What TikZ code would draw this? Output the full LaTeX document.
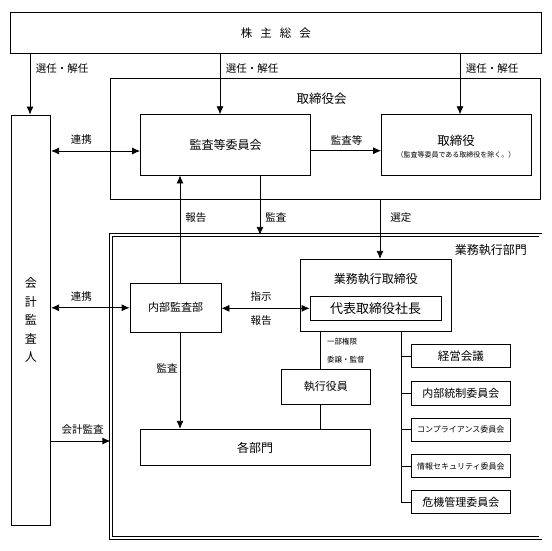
\documentclass[tikz,border=0pt]{standalone}
\usepackage{fontspec}
\setmainfont{Noto Sans CJK JP}
\usetikzlibrary{arrows.meta}
\tikzset{
	block/.style = {draw, rectangle, inner sep=0pt, font=\fontsize{12}{14}\selectfont},
	group/.style = {draw, rectangle, inner sep=0pt},
	cmte/.style  = {draw, rectangle, inner sep=0pt, minimum width=99.7pt,
		minimum height=23.5pt, font=\fontsize{11}{13}\selectfont},
	lab/.style   = {inner sep=0pt, font=\fontsize{10.5}{12}\selectfont}, % arrow labels
	head/.style  = {inner sep=0pt, font=\fontsize{12}{14}\selectfont} % box titles
}
\newcommand{\sennin}{選任・解任}

\begin{document}
\begin{tikzpicture}[x=1pt, y=-1pt, line width=0.8pt, >={Latex[length=8pt,width=7pt]}]
	\useasboundingbox (0,0) rectangle (551,551);
	\draw
	node at (275.85,33) [block, minimum width=530.3pt, minimum height=40.6pt,
		font=\fontsize{11.5}{14}\selectfont] (soukai) {株\hspace{8pt}主\hspace{8pt}総\hspace{8pt}会}
	node at (325.7,138.65) [group, minimum width=430pt, minimum height=120.7pt] (board) {}
	node at (321.7,98.3) [head, font=\fontsize{12.5}{14}\selectfont] {取締役会}
	node at (30.85,320.35) [block, minimum width=39.7pt, minimum height=410.7pt, align=center,
		font=\fontsize{12}{18.5}\selectfont] (kaikei) {会\\計\\監\\査\\人}
	node at (225.5,144.85) [block, minimum width=170pt, minimum height=60.3pt] (kansa) {監査等委員会}
	node at (456.5,144.85) [block, minimum width=150pt, minimum height=60.3pt] (tori) {}
	node at (456,141) [head, font=\fontsize{12.5}{14}\selectfont] {取締役}
	node at (456,154.5) [head, font=\fontsize{7}{8}\selectfont] {（監査等委員である取締役を除く。）}
	node at (325.6,386.8) [group, double, double distance=2.2pt, minimum width=429.7pt,
		minimum height=303pt] (bumon) {}
	node at (490.9,250) [head] {業務執行部門}
	node at (375.5,295.5) [block, minimum width=151pt, minimum height=72.4pt] (gyomu) {}
	node at (375.8,279.5) [head] {業務執行取締役}
	node at (375.5,308.35) [block, minimum width=131pt, minimum height=24.7pt,
		font=\fontsize{13}{15}\selectfont] (daihyo) {代表取締役社長}
	node at (175.5,307.8) [block, minimum width=91pt, minimum height=49pt,
		font=\fontsize{11}{13}\selectfont] (naibu) {内部監査部}
	node at (325.85,386.8) [block, minimum width=89.7pt, minimum height=35pt,
		font=\fontsize{11}{13}\selectfont] (shikko) {執行役員}
	node at (255,447.5) [block, minimum width=230pt, minimum height=36.4pt] (kakubu) {各部門}
	node at (460.85,356) [cmte, font=\fontsize{11.5}{13}\selectfont] (keiei) {経営会議}
	node at (460.85,393.3) [cmte] (tousei) {内部統制委員会}
	node at (460.85,429.7) [cmte, font=\fontsize{8}{10}\selectfont] (compl) {コンプライアンス委員会}
	node at (460.85,466) [cmte, font=\fontsize{8}{10}\selectfont] (joho) {情報セキュリティ委員会}
	node at (460.85,502) [cmte] (kiki) {危機管理委員会};
	
	\draw[->] (soukai.south -| 30,0) -- node[lab, pos=0.24, right=5.5pt] {\sennin} (kaikei.north -| 30,0);
	\draw[->] (soukai.south -| 220,0) -- node[lab, pos=0.24, right=5.5pt] {\sennin} (kansa.north -| 220,0);
	\draw[->] (soukai.south -| 460,0) -- node[lab, pos=0.24, right=5.5pt] {\sennin} (tori.north -| 460,0);
	\draw[<->] (kaikei.east |- 0,151) -- node[lab, pos=0.34, yshift=11.7pt] {連携} (kansa.west |- 0,151);
	\draw[->] (kansa.east |- 0,150.7) -- node[lab, pos=0.51, yshift=10.7pt] {監査等} (tori.west |- 0,150.7);
	\draw[->] (naibu.north -| 180,0) -- node[lab, pos=0.61, right=5pt] {報告} (kansa.south -| 180,0);
	\draw[->] (kansa.south -| 260,0) -- node[lab, pos=0.71, right=5pt] {監査} (bumon.north -| 260,0);
	\draw[->] (board.south -| 380,0) -- node[lab, pos=0.3, right=10pt] {選定} (gyomu.north -| 380,0);
	\draw[<->] (kaikei.east |- naibu.west) -- node[lab, pos=0.385, yshift=11.6pt] {連携} (naibu.west);
	\draw[<->] (naibu.east |- daihyo.west) -- node[lab, pos=0.45, yshift=11.6pt] {指示}
		node[lab, pos=0.45, yshift=-12.4pt] {報告} (daihyo.west);
	\draw[->] (naibu.south -| 180,0) -- node[lab, pos=0.37, left=2pt] {監査} (kakubu.north -| 180,0);
	\draw[->] (kaikei.east |- 0,441) -- node[lab, pos=0.53, yshift=11pt] {会計監査} (bumon.west |- 0,441);
	
	\draw (gyomu.south -| 320.7,0) -- node[pos=0.5, right=6pt, align=left, inner sep=0pt,
		font=\fontsize{7.5}{17.3}\selectfont] {一部権限\\委譲・監督} (shikko.north -| 320.7,0);
	\draw (shikko.south -| 320.7,0) -- (kakubu.north -| 320.7,0);
	\draw (gyomu.south -| 401,0) |- (kiki.west);
	\foreach \c in {keiei,tousei,compl,joho}
		\draw (\c.west -| 401,0) -- (\c.west);
	
\end{tikzpicture}
\end{document}
